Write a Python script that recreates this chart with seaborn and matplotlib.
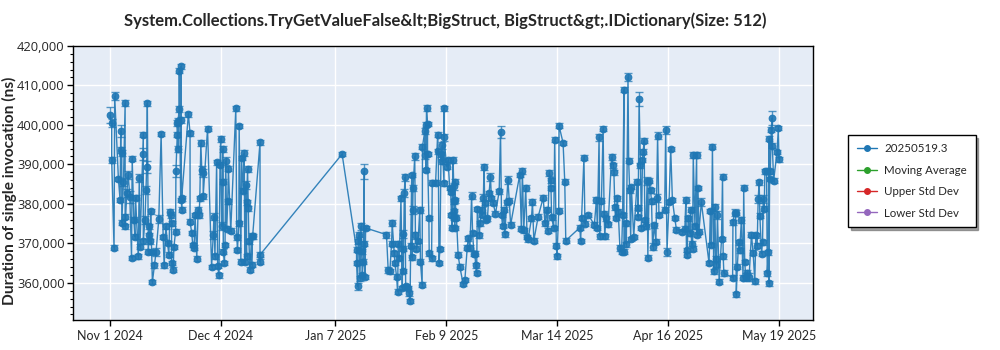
import numpy as np
import pandas as pd
import matplotlib
matplotlib.use("Agg")
import matplotlib.pyplot as plt
import matplotlib.dates as mdates
from matplotlib.ticker import FuncFormatter, MultipleLocator, FixedLocator
from matplotlib.lines import Line2D
import seaborn as sns

title = "System.Collections.TryGetValueFalse&lt;BigStruct, BigStruct&gt;.IDictionary(Size: 512)"
y_label = "Duration of single invocation (ns)"
series_name = "20250519.3"
legend_labels = ["20250519.3", "Moving Average", "Upper Std Dev", "Lower Std Dev"]
legend_colors = ["#1f77b4", "#2ca02c", "#d62728", "#9467bd"]
tick_dates = ["2024-11-01", "2024-12-04", "2025-01-07", "2025-02-09",
              "2025-03-14", "2025-04-16", "2025-05-19"]
tick_labels = ["Nov 1 2024", "Dec 4 2024", "Jan 7 2025", "Feb 9 2025",
               "Mar 14 2025", "Apr 16 2025", "May 19 2025"]
start_date = "2024-11-01"
x_range = ["2024-10-21", "2025-05-29"]
y_range = [350600, 420000]

# days since start_date
day_offsets = [
    0.0, 0.5, 0.5, 1.2, 1.4, 2.5, 3.0, 3.2, 3.2, 3.5,
    3.5, 4.0, 4.5, 4.5, 4.5, 5.0, 5.4, 5.9, 6.4, 6.6,
    7.1, 7.4, 7.6, 8.4, 8.7, 8.9, 9.7, 9.9, 9.9, 10.4,
    10.7, 10.9, 11.1, 11.4, 11.7, 11.7, 11.9, 12.1, 12.4, 12.6,
    13.2, 13.7, 14.5, 15.2, 15.8, 16.1, 16.6, 17.1, 17.5, 17.8,
    18.1, 18.3, 18.3, 18.8, 19.0, 19.5, 19.6, 20.0, 20.0, 20.3,
    20.3, 20.5, 20.6, 21.0, 21.1, 21.1, 21.3, 21.3,
    23.3, 23.8, 23.8, 24.3, 24.6, 25.0, 25.3, 25.8, 26.2, 26.5,
    26.7, 27.0, 27.3, 27.7, 27.7, 29.0, 30.2, 30.7, 30.9, 31.2,
    31.7, 32.0, 32.4, 32.7, 32.9, 33.2, 33.5, 33.5, 33.7, 34.0,
    34.2, 34.4, 34.7, 35.0, 35.2, 35.9, 37.4, 37.7, 37.9, 38.3,
    38.4, 38.9, 39.1, 39.6, 39.9, 40.1, 40.3, 40.6, 40.6, 40.9,
    41.1, 41.3, 41.6, 42.1, 42.1, 42.4, 44.6, 44.6, 44.6, 69.0,
    73.3, 73.3, 73.6, 73.8, 74.1, 74.3, 74.6, 74.8, 75.0, 75.3,
    75.6, 75.6, 75.8, 76.0, 82.2, 82.7, 83.2, 83.7, 83.9, 84.5,
    84.7, 85.2, 85.5, 85.7, 86.0, 86.5, 86.9, 87.0, 87.2, 87.2,
    87.5, 87.7, 87.9, 88.5, 88.9, 89.2, 89.4, 89.7, 89.8, 90.0,
    90.1, 90.6, 90.8, 91.1, 91.6, 92.1, 92.3, 92.8, 92.9, 93.6,
    93.6, 93.9, 93.9, 94.1, 94.4, 94.4, 94.8, 94.9, 95.6, 95.8,
    96.8, 97.4, 97.6, 97.8, 98.1, 98.4, 98.6, 98.8, 99.3, 99.3,
    99.3, 100.1, 100.5, 101.0, 101.3, 101.5, 101.7, 102.0,
    102.2, 102.2, 102.3, 102.4, 102.5, 102.5, 102.6, 103.0, 103.5, 104.0,
    105.0, 105.5, 106.2, 106.5, 107.0, 107.5, 107.8, 108.2, 108.5, 108.7,
    109.0, 109.2, 109.8, 110.0, 110.5, 110.5, 111.0, 111.2, 111.4, 111.7,
    112.2, 112.7, 113.1, 113.4, 113.9, 114.6, 115.7, 116.1, 116.4, 116.7,
    117.1, 117.4, 117.9, 118.3, 118.7, 119.1, 121.8, 122.3, 122.6, 123.0,
    123.6, 124.0, 124.3, 125.3, 125.6, 126.0, 127.3, 128.8, 129.3, 129.8,
    130.1, 130.6, 131.0, 131.1, 131.3, 131.9, 132.2, 132.7, 132.9, 133.4,
    133.5, 134.7, 135.2, 135.5,
    139.7, 139.9, 140.2, 140.9, 141.2, 142.2, 144.0, 144.6, 144.9, 145.4,
    145.6, 146.1, 146.6, 146.9, 147.1, 147.4, 148.1, 149.1, 149.6, 149.8,
    150.1, 150.4, 150.8, 151.1, 151.6, 152.1, 152.4, 152.8, 152.8, 153.3,
    153.5, 154.0, 154.2, 154.5, 154.8, 155.0, 155.7, 156.7, 157.0, 157.0,
    157.3, 157.7, 158.0, 158.3, 158.5, 158.8, 159.0, 159.3, 159.7, 159.9,
    160.3, 160.7, 161.0, 161.3, 161.8, 162.3, 162.5, 162.8, 163.2, 164.9,
    165.2, 165.6, 166.2, 166.7, 167.2,
    167.9, 168.4, 170.2, 170.9, 171.2, 171.4, 171.6, 171.9, 172.4, 172.6,
    172.9, 173.2, 173.4, 173.9, 174.4, 174.5, 174.8, 175.1, 175.8, 178.1,
    178.5, 178.8, 179.1, 179.5, 179.8, 180.1, 180.3, 180.6, 181.1, 181.8,
    182.1, 182.3, 182.5, 185.1, 185.2, 185.7, 186.0, 186.2, 186.5, 186.9,
    187.2, 187.7, 188.2, 188.4, 188.7, 189.0, 189.4, 190.0, 190.7, 191.2,
    191.7, 192.0, 192.4, 192.7, 193.0, 193.2, 193.7, 194.0, 194.2, 194.5,
    194.7, 195.2, 195.4, 195.7, 195.9, 195.9, 196.1, 196.3, 196.6, 196.8,
    196.9, 197.3, 198.3, 198.7, 198.9,
]

# duration in microseconds (thousands of ns)
duration_us = [
    402.4, 400.4, 391.1, 368.9, 407.2, 386.3, 381.0, 398.5, 393.7, 392.9,
    375.2, 385.6, 405.5, 376.8, 374.3, 382.8, 387.3, 381.8, 366.3, 391.4,
    376.0, 371.7, 381.6, 366.7, 386.5, 369.2, 392.6, 397.5, 370.5, 376.0,
    383.5, 389.4, 405.5, 367.9, 374.3, 372.0, 370.5, 378.1, 367.8, 360.2,
    364.4, 367.9, 376.1, 397.7, 371.6, 364.4, 374.3, 370.1, 367.1, 378.0,
    377.2, 375.1, 365.0, 363.3, 369.1, 373.0, 388.4, 397.5, 400.4, 393.9,
    401.0, 404.0, 413.7, 381.0, 414.8, 401.3, 378.5, 381.4,
    402.7, 397.9, 375.5, 372.6, 369.6, 368.9, 377.2, 366.1, 378.5, 377.1,
    381.4, 395.4, 388.6, 387.8, 381.9, 399.0, 364.0, 372.2, 376.8, 366.7,
    390.5, 364.3, 361.9, 389.9, 396.5, 374.3, 385.6, 393.9, 367.9, 365.0,
    369.6, 390.9, 373.7, 380.6, 388.9, 373.2, 404.2, 371.5, 368.3, 375.1,
    399.7, 365.4, 391.6, 383.3, 392.8, 365.4, 384.8, 366.7, 380.4, 388.8,
    378.9, 370.5, 363.3, 371.9, 364.6, 371.8, 395.6, 365.4, 367.1, 392.6,
    368.4, 365.0, 359.1, 370.5, 372.2, 361.2, 374.3, 368.0, 362.0, 365.4,
    388.2, 369.9, 361.5, 373.9, 372.2, 363.3, 362.9, 369.9, 375.1, 367.5,
    365.0, 361.6, 357.8, 369.9, 366.3, 381.4, 358.7, 372.3, 368.7, 363.0,
    382.7, 386.7, 359.1, 358.7, 357.4, 355.4, 369.4, 387.3, 366.5, 378.5,
    384.0, 392.0, 372.0, 368.7, 370.6, 378.5, 365.4, 359.5, 394.5, 398.5,
    392.4, 400.0, 388.6, 404.2, 400.2, 392.6, 376.4, 367.5, 366.2, 385.4,
    385.4, 397.5, 393.3, 365.0, 368.6, 392.5, 390.8, 394.8, 385.2, 404.2,
    396.8, 389.4, 391.1, 384.0, 383.1, 377.2, 374.0, 391.1,
    384.4, 380.6, 378.1, 376.4, 373.9, 385.6, 380.9, 376.5, 367.1, 364.1,
    359.7, 360.7, 368.9, 371.3, 368.9, 382.1, 372.6, 367.4, 367.4, 364.4,
    362.5, 378.7, 372.0, 375.1, 378.5, 377.2, 381.6, 389.4, 380.3, 376.0,
    376.3, 382.7, 386.9, 381.4, 380.3, 377.5, 383.2, 398.2, 377.2, 374.4,
    378.5, 372.3, 380.4, 386.1, 380.8, 374.7, 387.3, 373.7, 388.4, 373.3,
    384.0, 371.6, 371.0, 376.3, 380.4, 370.7, 376.8, 381.6, 375.1, 378.5,
    373.2, 387.8, 386.0, 384.0, 376.6, 373.9, 396.2, 369.4, 366.7, 378.3,
    399.8, 395.4, 385.6, 370.7,
    374.0, 370.6, 376.4, 391.7, 375.0, 377.2, 374.7, 381.0, 373.9, 396.8,
    371.8, 380.8, 399.0, 377.5, 371.8, 376.3, 374.8, 391.8, 389.8, 388.0,
    379.1, 376.4, 381.4, 378.0, 368.8, 367.9, 377.2, 408.9, 367.9, 375.1,
    369.8, 412.1, 390.9, 383.4, 371.1, 384.3, 371.6, 385.6, 379.0, 376.7,
    406.5, 389.8, 373.9, 391.1, 393.2, 396.0, 375.9, 374.3, 385.9, 366.4,
    385.9, 383.4, 380.6, 369.2, 374.6, 370.4, 381.4, 397.3, 377.2, 378.5,
    398.7, 367.9, 380.5, 393.9, 381.0,
    376.4, 373.5, 373.0, 373.7, 381.0, 367.1, 368.3, 376.3, 372.5, 378.5,
    369.9, 368.7, 392.4, 374.3, 392.4, 372.2, 384.0, 373.0, 380.4, 365.0,
    378.2, 369.6, 394.5, 362.9, 379.1, 366.1, 364.6, 377.2, 360.3, 371.1,
    386.9, 366.7, 362.5, 361.3, 375.3, 377.8, 377.8, 357.1, 364.1, 370.3,
    368.2, 375.9, 361.3, 384.1, 365.3, 361.5, 362.6, 361.5, 372.2, 367.6,
    360.4, 372.0, 369.4, 381.3, 385.5, 377.0, 367.4, 370.3, 381.3, 378.8,
    388.2, 388.2, 362.4, 367.7, 396.5, 359.9, 386.3, 388.2, 398.8, 401.7,
    394.7, 385.9, 393.1, 399.2, 391.3,
]

# error bar half-height in microseconds
error_us = [
    2.0, 1.0, 0.8, 0.6, 1.0, 0.6, 0.6, 1.5, 0.8, 0.8,
    0.6, 1.0, 0.8, 0.6, 0.6, 1.0, 1.0, 1.5, 0.6, 0.6,
    0.6, 0.6, 0.6, 0.6, 1.0, 0.6, 1.5, 0.6, 0.6, 1.0,
    1.0, 1.5, 0.6, 0.6, 0.6, 0.6, 0.6, 0.6, 0.6, 0.6,
    0.6, 1.0, 1.0, 0.6, 0.6, 0.6, 0.6, 0.6, 0.6, 0.8,
    0.8, 0.6, 0.6, 0.6, 0.6, 0.6, 1.5, 0.6, 0.8, 0.8,
    0.8, 0.8, 0.6, 0.6, 0.6, 0.8, 0.6, 0.6,
    0.6, 0.6, 0.6, 0.6, 0.6, 0.6, 0.6, 0.6, 0.6, 0.6,
    0.6, 0.8, 1.0, 1.0, 0.6, 0.6, 0.6, 1.0, 1.0, 0.6,
    0.6, 0.6, 0.6, 0.6, 0.8, 1.0, 0.6, 0.8, 0.6, 0.6,
    0.6, 1.0, 0.6, 0.6, 0.6, 0.6, 0.6, 0.6, 0.6, 0.6,
    0.6, 0.6, 0.6, 0.6, 0.8, 0.6, 1.0, 0.6, 0.6, 0.8,
    0.6, 0.6, 0.6, 0.8, 0.6, 0.6, 0.6, 0.6, 0.6, 0.6,
    0.6, 0.6, 0.8, 0.6, 0.6, 0.6, 0.8, 0.6, 0.6, 0.6,
    1.8, 0.6, 0.6, 0.6, 0.8, 0.8, 0.6, 0.6, 0.8, 0.6,
    0.6, 0.6, 0.6, 0.6, 0.6, 0.6, 0.6, 1.0, 0.6, 0.6,
    1.0, 0.8, 0.6, 0.6, 0.6, 0.6, 0.6, 0.6, 0.6, 1.0,
    0.8, 0.8, 1.0, 0.6, 0.6, 0.8, 0.6, 0.6, 0.6, 0.8,
    1.0, 0.6, 0.6, 0.8, 0.6, 0.6, 0.6, 0.6, 0.6, 0.6,
    0.6, 0.6, 0.6, 0.6, 0.6, 0.6, 0.6, 0.8, 0.6, 0.6,
    0.8, 0.6, 0.6, 0.6, 0.6, 0.6, 0.6, 0.8,
    1.0, 0.6, 0.6, 0.6, 0.6, 0.6, 0.6, 0.6, 0.6, 0.6,
    0.6, 0.6, 0.6, 0.6, 0.6, 0.8, 0.6, 0.6, 0.6, 0.6,
    0.6, 0.6, 0.6, 0.6, 0.6, 0.6, 1.0, 0.8, 0.6, 0.6,
    0.6, 0.6, 1.0, 0.6, 0.6, 0.6, 0.6, 1.6, 0.6, 0.6,
    0.6, 0.6, 0.6, 1.0, 0.6, 0.6, 0.6, 0.6, 0.8, 0.6,
    0.8, 0.6, 0.6, 0.6, 0.8, 0.6, 0.6, 0.6, 0.6, 0.6,
    0.6, 0.8, 0.6, 0.6, 0.6, 0.6, 0.6, 0.6, 0.6, 0.6,
    0.6, 0.6, 0.6, 0.6,
    0.6, 0.6, 0.6, 0.6, 0.6, 0.6, 0.6, 0.8, 0.6, 0.8,
    0.6, 0.6, 0.6, 0.6, 0.6, 0.6, 0.6, 0.8, 0.6, 0.6,
    0.6, 0.6, 0.6, 0.6, 0.8, 0.6, 0.6, 0.6, 0.6, 0.6,
    0.6, 1.0, 0.6, 0.6, 0.6, 0.6, 0.6, 0.6, 0.6, 0.6,
    1.8, 0.6, 0.6, 0.6, 0.6, 0.6, 0.6, 0.6, 1.0, 0.6,
    0.6, 0.6, 0.6, 1.0, 0.6, 0.6, 1.0, 1.0, 0.6, 0.6,
    1.0, 1.0, 0.6, 0.6, 0.6,
    0.6, 0.6, 0.6, 0.6, 0.8, 0.6, 0.6, 0.6, 0.6, 0.6,
    0.6, 0.6, 0.8, 0.6, 0.8, 0.6, 0.6, 0.6, 1.0, 0.6,
    0.6, 0.6, 0.6, 0.6, 0.8, 0.6, 0.6, 1.0, 0.6, 0.6,
    0.6, 0.6, 0.8, 0.6, 0.6, 0.8, 0.6, 0.6, 0.6, 0.6,
    0.6, 0.8, 0.6, 0.6, 0.6, 1.0, 0.6, 1.0, 0.6, 0.6,
    0.6, 0.6, 0.6, 1.0, 0.6, 0.6, 0.6, 0.6, 1.0, 0.6,
    0.6, 0.6, 0.6, 0.6, 0.6, 0.6, 0.6, 0.6, 0.6, 1.8,
    0.6, 0.6, 0.6, 0.6, 0.6,
]

assert len(day_offsets) == len(duration_us) == len(error_us), (len(day_offsets), len(duration_us), len(error_us))

df = pd.DataFrame({
    "date": pd.Timestamp(start_date) + pd.to_timedelta(day_offsets, unit="D"),
    "ns": np.array(duration_us) * 1000.0,
    "err": np.array(error_us) * 1000.0,
})

sns.set_theme(style="white")
plt.rcParams["font.family"] = ["Lato", "DejaVu Sans"]

fig = plt.figure(figsize=(10, 3.5), dpi=100)
ax = fig.add_axes([0.073, 0.0857, 0.740, 0.7833])
ax.set_facecolor("#e5ecf6")
ax.grid(True, color="white", linewidth=1.0)
ax.set_axisbelow(True)

blue = legend_colors[0]
ax.errorbar(df["date"], df["ns"], yerr=df["err"], fmt="none", ecolor=blue,
            elinewidth=1.0, capsize=3, capthick=1.0, alpha=0.75, zorder=2)
sns.lineplot(data=df, x="date", y="ns", sort=False, estimator=None, ax=ax,
             color=blue, linewidth=1.0, marker="o", markersize=4.8,
             markeredgewidth=0.8, markeredgecolor=(0.12, 0.47, 0.71, 0.5),
             alpha=0.9, zorder=3, legend=False)

ax.set_xlim(pd.Timestamp(x_range[0]), pd.Timestamp(x_range[1]))
ax.set_ylim(y_range[0], y_range[1])
ax.xaxis.set_major_locator(FixedLocator(mdates.date2num(pd.to_datetime(tick_dates))))
ax.set_xticklabels(tick_labels, fontsize=9)
ax.yaxis.set_major_locator(MultipleLocator(10000))
ax.yaxis.set_minor_locator(MultipleLocator(2000))
ax.yaxis.set_major_formatter(FuncFormatter(lambda v, p: f"{int(v):,}"))
ax.tick_params(axis="y", which="major", length=4, width=1, color="black", left=True, pad=2)
ax.tick_params(axis="y", which="minor", length=2, width=0.8, color="black", left=True)
ax.tick_params(axis="x", which="major", length=4, width=1, color="black", bottom=True, pad=3)
for lbl in ax.get_yticklabels():
    lbl.set_fontfamily(["Open Sans", "DejaVu Sans"])
    lbl.set_fontsize(9.3)
for s in ax.spines.values():
    s.set_color("black")
    s.set_linewidth(1.0)

ax.set_xlabel("")
ax.set_ylabel(y_label, fontsize=11.2, fontweight="bold")
ax.yaxis.set_label_coords(-0.0755, 0.47)
fig.suptitle(title, x=0.445, y=0.965, fontsize=12, fontweight="bold")

handles = [Line2D([0], [0], color=c, marker="o", markersize=4, linewidth=1.0)
           for c in legend_colors]
leg = fig.legend(handles, legend_labels, loc="upper left",
                 bbox_to_anchor=(0.848, 0.615), frameon=True, fancybox=False,
                 shadow=True, fontsize=8.3, handlelength=1.8, labelspacing=0.9,
                 borderpad=0.75, handletextpad=0.6, borderaxespad=0)
leg.get_frame().set_edgecolor("black")
leg.get_frame().set_linewidth(1.0)

fig.savefig("out.png", dpi=100)
